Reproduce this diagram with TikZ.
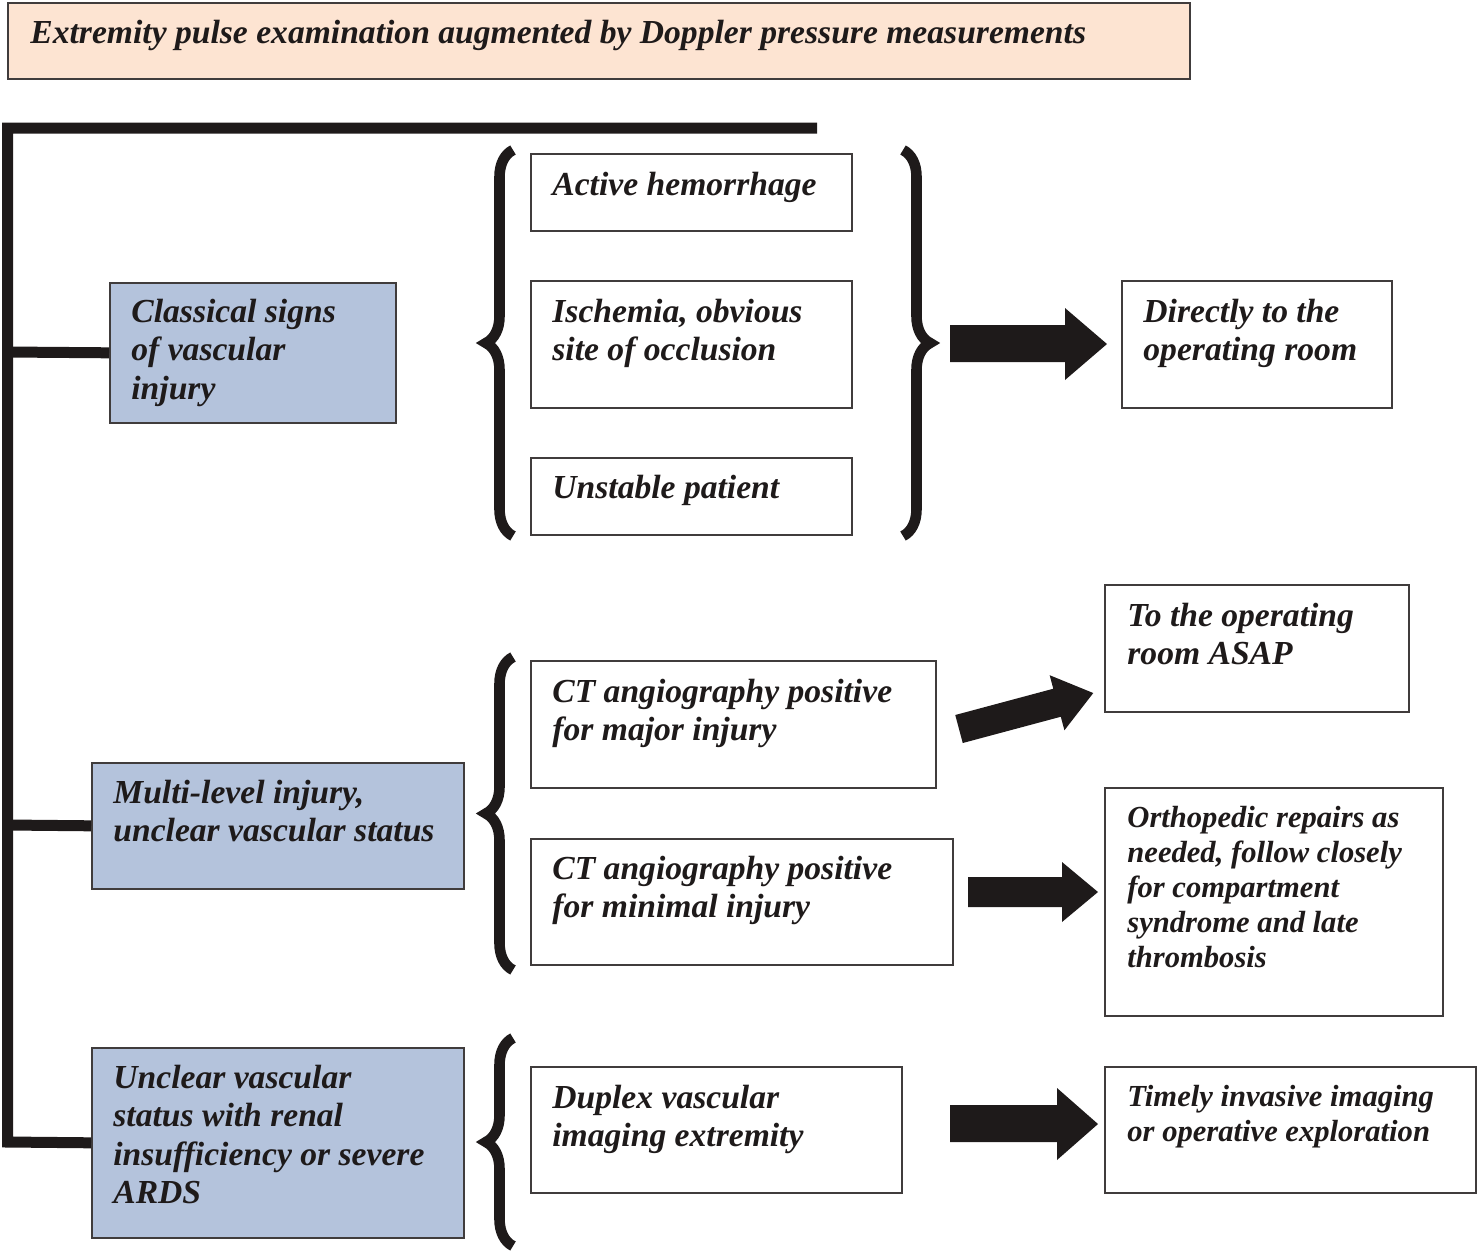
\documentclass[tikz,border=0pt]{standalone}
\usepackage{fontspec}
\setmainfont{Liberation Serif}
\usetikzlibrary{calc,decorations.pathreplacing}
\definecolor{boxblue}{HTML}{B4C3DC}
\definecolor{peach}{HTML}{FDE4D2}
\definecolor{ink}{HTML}{1E1A1A}
\newcommand\mainsz{\fontsize{16.8}{19.25}\selectfont\bfseries\itshape}
\newcommand\smallsz{\fontsize{15.3}{17.6}\selectfont\bfseries\itshape}
\newcommand\lns[1]{\begin{tabular}[t]{@{}l@{}}#1\end{tabular}}
\begin{document}
\begin{tikzpicture}[x=0.5pt,y=-0.5pt,
  box/.style={draw=ink!85, line width=0.8pt, inner sep=0pt, anchor=north west},
  bluebox/.style={box, fill=boxblue},
  wbox/.style={box, fill=white},
  txt/.style={anchor=base west, inner sep=0pt, font=\mainsz, text=ink},
  stxt/.style={txt, font=\smallsz},
  bar/.style={line width=5.5pt, line join=miter, draw=ink},
  bigbrace/.style={decorate, decoration={brace, amplitude=13.5pt}, line width=5.3pt, draw=ink},
  barrow/.style={fill=ink}]
\useasboundingbox (0,0) rectangle (1478,1250);

% title
\node[box, fill=peach, minimum width=591pt, minimum height=38pt] (title) at (7,2) {};
\node[txt] (titlet) at ($(title.north west)+(23,41)$) {Extremity pulse examination augmented by Doppler pressure measurements};

% left-hand categories
\node[bluebox, minimum width=143pt, minimum height=70pt] (b1) at (109,282) {};
\node[txt] (b1t) at ($(b1.north west)+(22,40)$) {\lns{Classical signs\\of vascular\\injury}};
\node[bluebox, minimum width=186pt, minimum height=63pt] (b2) at (91,762) {};
\node[txt] (b2t) at ($(b2.north west)+(22,41)$) {\lns{Multi-level injury,\\unclear vascular status}};
\node[bluebox, minimum width=186pt, minimum height=95pt] (b3) at (91,1047) {};
\node[txt] (b3t) at ($(b3.north west)+(22,41)$) {\lns{Unclear vascular\\status with renal\\insufficiency or severe\\ARDS}};

% spine
\coordinate (topR) at (817,128);
\coordinate (topL) at (7.5,128);
\coordinate (botL) at (7.5,1142);
\coordinate (s1) at (7.5,352);
\coordinate (s2) at (7.5,825);
\draw[bar] (topR) -- (topL) -- (botL) -- (b3.west);
\draw[bar] (s1) -- (b1.west);
\draw[bar] (s2) -- (b2.west);

% middle boxes
\node[wbox, minimum width=160.5pt, minimum height=38.5pt] (a1) at (530,153) {};
\node[txt] (a1t) at ($(a1.north west)+(22,42)$) {Active hemorrhage};
\node[wbox, minimum width=160.5pt, minimum height=63.5pt] (a2) at (530,280) {};
\node[txt] (a2t) at ($(a2.north west)+(22,42)$) {\lns{Ischemia, obvious\\site of occlusion}};
\node[wbox, minimum width=160.5pt, minimum height=38.5pt] (a3) at (530,457) {};
\node[txt] (a3t) at ($(a3.north west)+(22,41)$) {Unstable patient};

\node[wbox, minimum width=202.5pt, minimum height=63.5pt] (m1) at (530,660) {};
\node[txt] (m1t) at ($(m1.north west)+(22,42)$) {\lns{CT angiography positive\\for major injury}};
\node[wbox, minimum width=211pt, minimum height=63pt] (m2) at (530,838) {};
\node[txt] (m2t) at ($(m2.north west)+(22,41)$) {\lns{CT angiography positive\\for minimal injury}};

\node[wbox, minimum width=185.5pt, minimum height=63pt] (d1) at (530,1066) {};
\node[txt] (d1t) at ($(d1.north west)+(22,42)$) {\lns{Duplex vascular\\imaging extremity}};

% right boxes
\node[wbox, minimum width=135pt, minimum height=63.5pt] (r1) at (1121,280) {};
\node[txt] (r1t) at ($(r1.north west)+(22,42)$) {\lns{Directly to the\\operating room}};
\node[wbox, minimum width=152pt, minimum height=63.5pt] (r2) at (1104,584) {};
\node[txt] (r2t) at ($(r2.north west)+(23,42)$) {\lns{To the operating\\room ASAP}};
\node[wbox, minimum width=169pt, minimum height=114pt] (r3) at (1104,787) {};
\node[stxt] (r3t) at ($(r3.north west)+(23,40)$) {\lns{Orthopedic repairs as\\needed, follow closely\\for compartment\\syndrome and late\\thrombosis}};
\node[wbox, minimum width=185.5pt, minimum height=63pt] (r4) at (1104,1066) {};
\node[stxt] (r4t) at ($(r4.north west)+(23,40)$) {\lns{Timely invasive imaging\\or operative exploration}};

% braces
\draw[bigbrace] (513,536) -- (513,150);
\draw[bigbrace] (903,150) -- (903,536);
\draw[bigbrace] (513,970) -- (513,657);
\draw[bigbrace] (513,1246) -- (513,1038);

% block arrows
\fill[barrow] (950,325) -- (1065,325) -- (1065,308) -- (1107,344) -- (1065,380) -- (1065,362) -- (950,362) -- cycle;
\begin{scope}[shift={(959,729)}, rotate=15]
\fill[barrow] (0,-14.5) -- (101.5,-14.5) -- (101.5,-28.5) -- (139,0) -- (101.5,28.5) -- (101.5,14.5) -- (0,14.5) -- cycle;
\end{scope}
\fill[barrow] (968,877) -- (1062,877) -- (1062,862) -- (1098,892) -- (1062,922) -- (1062,907) -- (968,907) -- cycle;
\fill[barrow] (950,1105) -- (1057,1105) -- (1057,1088) -- (1098,1124) -- (1057,1160) -- (1057,1142) -- (950,1142) -- cycle;
\end{tikzpicture}
\end{document}
